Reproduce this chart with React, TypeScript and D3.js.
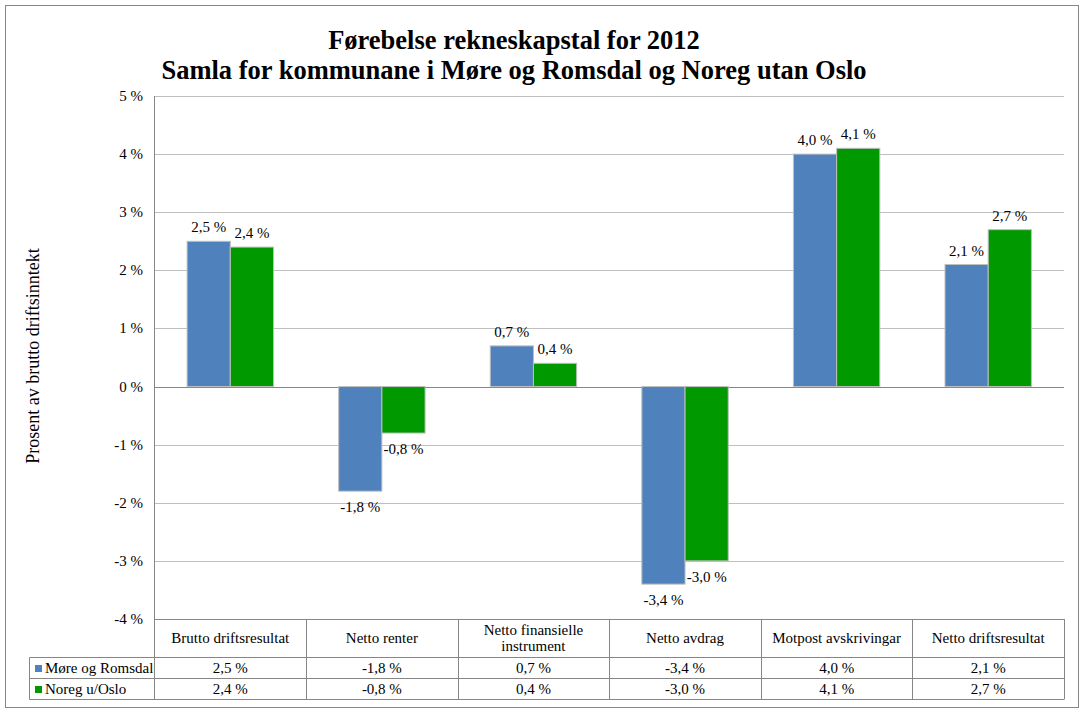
import React from "react";
import * as d3 from "d3";

const categories = [
  "Brutto driftsresultat",
  "Netto renter",
  "Netto finansielle instrument",
  "Netto avdrag",
  "Motpost avskrivingar",
  "Netto driftsresultat",
];
const categoryLines = [
  ["Brutto driftsresultat"],
  ["Netto renter"],
  ["Netto finansielle", "instrument"],
  ["Netto avdrag"],
  ["Motpost avskrivingar"],
  ["Netto driftsresultat"],
];
const seriesNames = ["Møre og Romsdal", "Noreg u/Oslo"];
const moreRomsdal = [2.5, -1.8, 0.7, -3.4, 4.0, 2.1];
const noregUtanOslo = [2.4, -0.8, 0.4, -3.0, 4.1, 2.7];
const seriesColors = ["#4F81BD", "#009900"];
const yTicks = [5, 4, 3, 2, 1, 0, -1, -2, -3, -4];
const titleLines = [
  "Førebelse rekneskapstal for 2012",
  "Samla for kommunane i Møre og Romsdal og Noreg utan Oslo",
];
const yLabel = "Prosent av brutto driftsinntekt";

const W = 1083;
const H = 712;
const FONT = "'Liberation Serif', 'Times New Roman', serif";

const fmt = (v: number) => d3.format(".1f")(v).replace(".", ",").replace("−", "-") + " %";

export default function App() {
  const left = 154.5;
  const right = 1064;
  const top = 96;
  const bottom = 619;
  const legendLeft = 29.5;
  const headerBottom = 657.5;
  const row1Bottom = 678.5;
  const tableBottom = 699.5;

  const y = d3.scaleLinear().domain([-4, 5]).range([bottom, top]);
  const x0 = d3.scaleBand<string>().domain(categories).range([left, right]).paddingInner(0).paddingOuter(0);
  const groupWidth = x0.bandwidth() * 0.57;
  const x1 = d3.scaleBand<number>().domain([0, 1]).range([0, groupWidth]).padding(0);
  const series = [moreRomsdal, noregUtanOslo];

  return (
    <svg width={W} height={H} style={{ position: "absolute", left: 0, top: 0, background: "#fff" }} fontFamily={FONT}>
      <rect x={5.5} y={5.5} width={1073} height={702} fill="#fff" stroke="#868686" strokeWidth={1} />
      {titleLines.map((t, i) => (
        <text key={i} x={514} y={49 + i * 30} textAnchor="middle" fontSize={26.5} fontWeight="bold" fill="#000">
          {t}
        </text>
      ))}
      {/* gridlines */}
      {yTicks.map((t) => (
        <line key={t} x1={left} x2={right} y1={Math.round(y(t)) + 0.5} y2={Math.round(y(t)) + 0.5}
          stroke={t === 0 || t === -4 ? "#868686" : "#BFBFBF"} strokeWidth={1} />
      ))}
      {yTicks.map((t) => (
        <text key={"l" + t} x={143} y={y(t) + 5} textAnchor="end" fontSize={15} fill="#000">
          {`${t} %`}
        </text>
      ))}
      <text transform={`translate(39,356) rotate(-90)`} textAnchor="middle" fontSize={18} fill="#000">
        {yLabel}
      </text>
      {/* bars */}
      {categories.map((c, ci) => {
        const gx = (x0(c) as number) + (x0.bandwidth() - groupWidth) / 2;
        return series.map((s, si) => {
          const v = s[ci];
          const bx = gx + (x1(si) as number);
          const y0 = y(0);
          const yv = y(v);
          return (
            <g key={c + si}>
              <rect x={bx} y={Math.min(y0, yv)} width={x1.bandwidth()} height={Math.abs(yv - y0)}
                fill={seriesColors[si]} stroke="#BFBFBF" strokeWidth={1} />
              <text x={bx + x1.bandwidth() / 2} y={v >= 0 ? yv - 9 : yv + 21} textAnchor="middle" fontSize={15} fill="#000">
                {fmt(v)}
              </text>
            </g>
          );
        });
      })}
      {/* axis line */}
      <line x1={left} x2={left} y1={top} y2={tableBottom} stroke="#868686" />
      {/* data table */}
      <g stroke="#868686" strokeWidth={1} fill="none">
        <line x1={legendLeft} x2={right} y1={headerBottom} y2={headerBottom} />
        <line x1={legendLeft} x2={right} y1={row1Bottom} y2={row1Bottom} />
        <line x1={legendLeft} x2={right} y1={tableBottom} y2={tableBottom} />
        <line x1={legendLeft} x2={legendLeft} y1={headerBottom} y2={tableBottom} />
        {categories.map((c) => {
          const xr = Math.round((x0(c) as number) + x0.bandwidth()) + 0.5;
          return <line key={c} x1={xr} x2={xr} y1={bottom} y2={tableBottom} />;
        })}
      </g>
      {categories.map((c, ci) => {
        const cx = (x0(c) as number) + x0.bandwidth() / 2;
        const lines = categoryLines[ci];
        const mid = (bottom + headerBottom) / 2;
        return lines.map((ln, li) => (
          <text key={c + li} x={cx} y={mid + 5 + (li - (lines.length - 1) / 2) * 16} textAnchor="middle" fontSize={15} fill="#000">
            {ln}
          </text>
        ));
      })}
      {series.map((s, si) => {
        const rowTop = si === 0 ? headerBottom : row1Bottom;
        const rowBot = si === 0 ? row1Bottom : tableBottom;
        const mid = (rowTop + rowBot) / 2;
        return (
          <g key={"row" + si}>
            <rect x={35} y={mid - 3} width={7} height={7} fill={seriesColors[si]} />
            <text x={45} y={mid + 5} fontSize={15} fill="#000">{seriesNames[si]}</text>
            {categories.map((c, ci) => (
              <text key={c} x={(x0(c) as number) + x0.bandwidth() / 2} y={mid + 5} textAnchor="middle" fontSize={15} fill="#000">
                {fmt(s[ci])}
              </text>
            ))}
          </g>
        );
      })}
    </svg>
  );
}
